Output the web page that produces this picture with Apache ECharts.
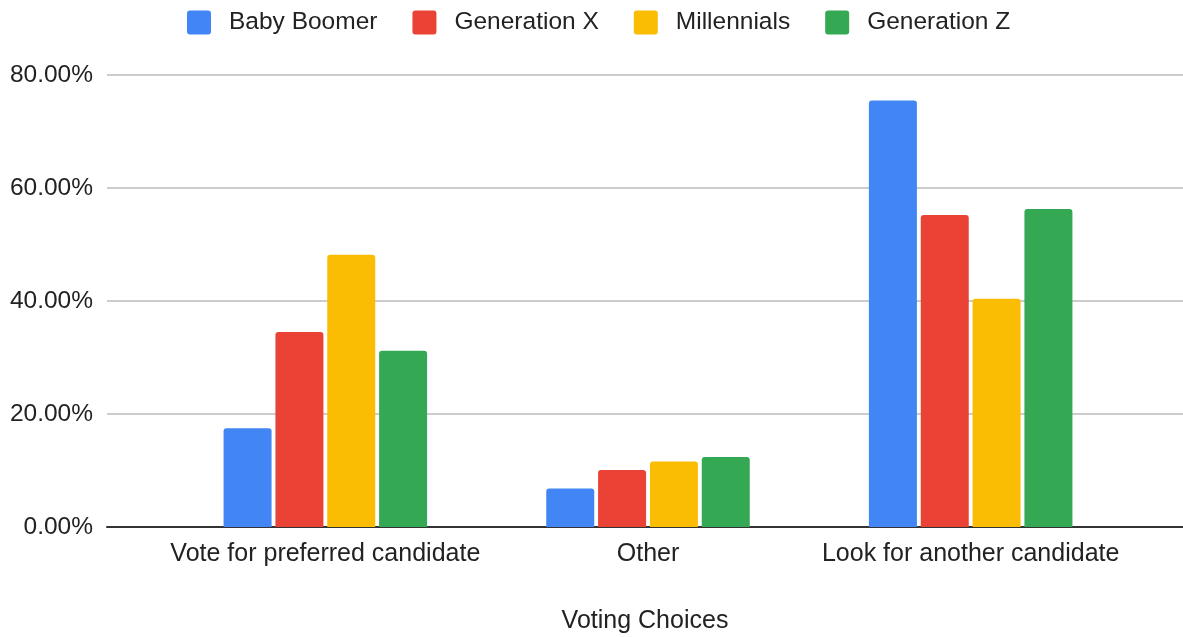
<!DOCTYPE html>
<html>
<head>
<meta charset="utf-8">
<script src="https://cdn.jsdelivr.net/npm/echarts@6/dist/echarts.min.js"></script>
<style>html,body{margin:0;padding:0;background:#fff}#c{width:1183px;height:637px}</style>
</head>
<body>
<div id="c"></div>
<script>
const categories = ["Vote for preferred candidate", "Other", "Look for another candidate"];
const seriesNames = ["Baby Boomer", "Generation X", "Millennials", "Generation Z"];
const babyBoomer = [17.5, 6.8, 75.5];
const generationX = [34.5, 10.1, 55.2];
const millennials = [48.2, 11.6, 40.4];
const generationZ = [31.2, 12.4, 56.3];
const yTicks = [0, 20, 40, 60, 80];
const colors = ["#4285F4", "#EA4335", "#FBBC04", "#34A853"];
const values = [babyBoomer, generationX, millennials, generationZ];

const font = "'Liberation Sans', Arial, sans-serif";
const chart = echarts.init(document.getElementById('c'), null, {renderer: 'canvas'});
const option = {
  animation: false,
  color: colors,
  textStyle: {fontFamily: font},
  legend: {
    top: 5,
    left: 182,
    itemWidth: 24,
    itemHeight: 24,
    itemGap: 35,
    icon: 'path://M3,0 H21 Q24,0 24,3 V21 Q24,24 21,24 H3 Q0,24 0,21 V3 Q0,0 3,0 Z',
    textStyle: {fontSize: 24.5, color: '#222', fontFamily: font, padding: [0, 0, 0, 13]},
    data: seriesNames
  },
  grid: [
    {left: 107, right: 0, top: 75, bottom: 110, containLabel: false, outerBoundsMode: 'none'},
    {left: 164, right: 51, top: 75, bottom: 110, containLabel: false, outerBoundsMode: 'none'}
  ],
  xAxis: [
    {
      type: 'category', gridIndex: 0, data: categories,
      axisLine: {show: true, lineStyle: {color: '#333', width: 2}},
      axisTick: {show: false}, axisLabel: {show: false},
      name: 'Voting Choices', nameLocation: 'middle', nameGap: 82,
      nameTextStyle: {fontSize: 25, color: '#222', fontFamily: font}
    },
    {
      type: 'category', gridIndex: 1, data: categories,
      axisLine: {show: false}, axisTick: {show: false},
      axisLabel: {fontSize: 25, color: '#222', fontFamily: font, margin: 15, interval: 0}
    }
  ],
  yAxis: [
    {
      type: 'value', gridIndex: 0, min: 0, max: 80, interval: 20,
      axisLine: {show: false}, axisTick: {show: false},
      splitLine: {lineStyle: {color: '#ccc', width: 2}},
      axisLabel: {fontSize: 24.5, color: '#222', fontFamily: font, margin: 14,
        formatter: v => yTicks.includes(v) ? v.toFixed(2) + '%' : ''}
    },
    {
      type: 'value', gridIndex: 1, min: 0, max: 80, interval: 20,
      show: false, splitLine: {show: false}
    }
  ],
  series: seriesNames.map((n, i) => ({
    name: n, type: 'bar', xAxisIndex: 1, yAxisIndex: 1,
    data: values[i], barWidth: 48, barGap: '8%',
    itemStyle: {color: colors[i], borderRadius: [3, 3, 0, 0]}
  }))
};
chart.setOption(option);
</script>
</body>
</html>
